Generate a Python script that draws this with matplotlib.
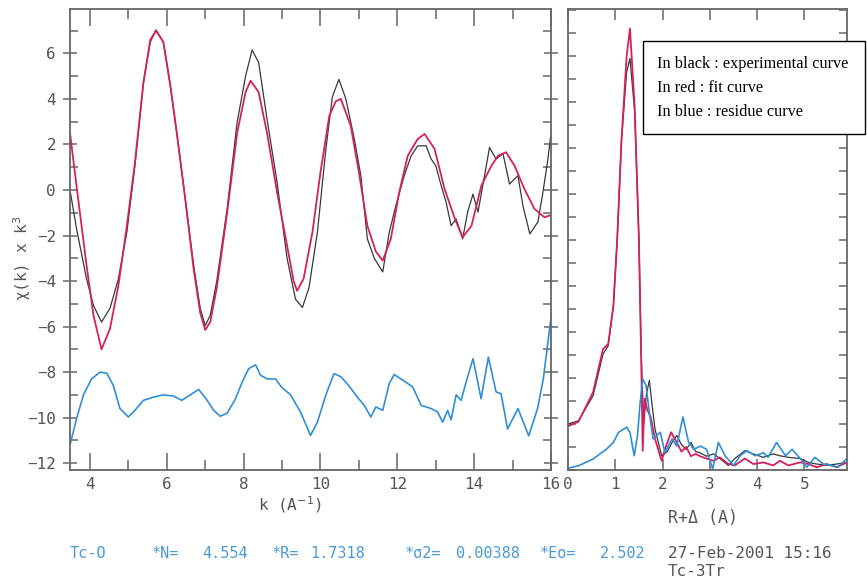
import numpy as np
import matplotlib
matplotlib.use("Agg")
import matplotlib.pyplot as plt
from matplotlib.patches import Rectangle
from matplotlib.ticker import MultipleLocator

# chi(k) * k^3 : experimental (black), fit (red), residue (blue, offset)
k_exp = [3.48, 3.65, 3.91, 4.09, 4.3, 4.52, 4.74, 4.96, 5.17, 5.39, 5.57, 5.72, 5.91, 6.09,
         6.26, 6.48, 6.7, 6.87, 7.0, 7.13, 7.3, 7.57, 7.83, 8.05, 8.22, 8.39, 8.61, 8.87,
         9.13, 9.35, 9.53, 9.7, 9.92, 10.14, 10.31, 10.48, 10.66, 10.88, 11.05, 11.22, 11.4,
         11.62, 11.79, 11.96, 12.18, 12.36, 12.53, 12.75, 12.88, 13.0, 13.14, 13.27, 13.4,
         13.53, 13.7, 13.83, 13.97, 14.1, 14.27, 14.4, 14.57, 14.75, 14.92, 15.14, 15.27,
         15.45, 15.66, 15.79, 15.92, 16.0]
chi_exp = [0.0, -1.7, -3.9, -5.07, -5.8, -5.2, -3.9, -1.85, 1.07, 4.7, 6.5, 7.03, 6.5, 4.6,
           2.5, -0.4, -3.33, -5.2, -5.96, -5.5, -4.0, -0.83, 2.97, 5.0, 6.15, 5.6, 3.1, 0.34,
           -3.0, -4.8, -5.16, -4.3, -1.86, 1.8, 4.1, 4.86, 4.0, 2.24, 0.63, -2.15, -3.0,
           -3.6, -1.86, -0.7, 0.63, 1.5, 1.94, 1.94, 1.36, 1.07, 0.2, -0.54, -1.57,
           -1.27, -2.15, -0.97, -0.18, -0.97, 0.63, 1.87, 1.36, 1.6, 0.26, 0.63, -0.7,
           -1.93, -1.4, -0.1, 1.36, 2.5]

k_fit = [3.48, 3.65, 3.91, 4.09, 4.3, 4.52, 4.74, 4.96, 5.17, 5.39, 5.57, 5.72, 5.91, 6.09,
         6.26, 6.48, 6.7, 6.87, 7.0, 7.13, 7.3, 7.57, 7.83, 8.05, 8.18, 8.39, 8.61, 8.87,
         9.13, 9.3, 9.39, 9.56, 9.79, 10.0, 10.23, 10.4, 10.53, 10.79, 11.0, 11.22, 11.44,
         11.62, 11.83, 12.05, 12.27, 12.53, 12.71, 12.97, 13.23, 13.5, 13.7, 13.93, 14.19,
         14.45, 14.62, 14.83, 15.05, 15.31, 15.57, 15.83, 16.0]
chi_fit = [2.5, 0.18, -3.3, -5.5, -7.0, -6.1, -4.2, -1.57, 1.2, 4.7, 6.6, 7.0, 6.5, 4.6,
           2.5, -0.4, -3.5, -5.4, -6.15, -5.8, -4.3, -1.0, 2.5, 4.3, 4.8, 4.3, 2.5, -0.1,
           -2.44, -4.0, -4.43, -3.9, -1.86, 0.78, 3.26, 3.9, 4.0, 2.8, 0.78, -1.57, -2.7,
           -3.1, -2.15, -0.1, 1.5, 2.24, 2.46, 1.8, 0.04, -1.27, -2.08, -1.57, 0.2,
           1.07, 1.5, 1.66, 1.07, 0.04, -0.83, -1.2, -1.1]

k_res = [3.48, 3.65, 3.83, 4.04, 4.26, 4.44, 4.61, 4.78, 5.0, 5.17, 5.39, 5.65, 5.91, 6.17,
         6.39, 6.61, 6.83, 7.05, 7.22, 7.39, 7.57, 7.78, 7.96, 8.13, 8.31, 8.44, 8.61, 8.83,
         8.98, 9.22, 9.48, 9.74, 9.92, 10.14, 10.35, 10.53, 10.74, 10.96, 11.14, 11.31,
         11.44, 11.62, 11.79, 11.92, 12.14, 12.4, 12.62, 12.88, 13.05, 13.18, 13.31, 13.4,
         13.53, 13.66, 13.79, 13.97, 14.18, 14.37, 14.57, 14.7, 14.87, 15.14, 15.42, 15.65,
         15.8, 16.0]
chi_res = [-11.2, -10.05, -9.0, -8.3, -8.0, -8.05, -8.6, -9.6, -9.97, -9.68, -9.24, -9.1,
           -9.0, -9.05, -9.24, -9.0, -8.76, -9.24, -9.68, -9.94, -9.8, -9.2, -8.44, -7.85,
           -7.68, -8.14, -8.3, -8.3, -8.65, -9.0, -9.75, -10.78, -10.2, -9.0, -8.07, -8.2,
           -8.6, -9.1, -9.46, -9.97, -9.53, -9.68, -8.5, -8.11, -8.35, -8.65, -9.46, -9.6,
           -9.75, -10.2, -9.68, -10.1, -9.0, -9.24, -8.44, -7.41, -9.17, -7.34, -8.87,
           -8.95, -10.5, -9.6, -10.8, -9.6, -8.3, -5.6]

# Fourier transform magnitude (arbitrary units)
r_exp = [0, 0.22, 0.53, 0.74, 0.85, 0.96, 1.04, 1.13, 1.24, 1.31, 1.41, 1.5, 1.55, 1.6,
         1.66, 1.72, 1.78, 1.84, 1.98, 2.1, 2.2, 2.3, 2.4, 2.5, 2.6, 2.7, 2.79, 2.93, 3.08,
         3.21, 3.39, 3.53, 3.74, 3.92, 4.13, 4.34, 4.48, 4.66, 4.91, 5.08, 5.26, 5.47,
         5.68, 5.9]
ft_exp = [2.0, 2.14, 3.23, 5.04, 5.4, 7.14, 10.0, 14.3, 17.3, 17.9, 15.6, 10.0, 5.0, 2.0,
          3.3, 3.9, 2.8, 1.78, 0.62, 0.8, 1.2, 1.5, 1.1, 0.9, 1.2, 0.8, 0.75, 0.6, 0.7,
          0.5, 0.2, 0.5, 0.84, 0.7, 0.55, 0.7, 0.62, 0.55, 0.5, 0.33, 0.26, 0.2, 0.26, 0.33]

r_fit = [0, 0.22, 0.53, 0.74, 0.85, 0.96, 1.04, 1.13, 1.24, 1.31, 1.41, 1.5, 1.55, 1.58,
         1.62, 1.68, 1.75, 1.84, 1.98, 2.05, 2.18, 2.3, 2.4, 2.5, 2.6, 2.7, 2.79, 2.93,
         3.08, 3.21, 3.39, 3.53, 3.74, 3.92, 4.13, 4.34, 4.48, 4.66, 4.91, 5.08, 5.26,
         5.47, 5.68, 5.9]
ft_fit = [1.9, 2.1, 3.38, 5.26, 5.48, 7.14, 10.0, 14.3, 18.0, 19.2, 15.8, 10.0, 4.5, 0.84,
          3.1, 2.6, 2.3, 1.35, 0.4, 0.9, 1.64, 1.2, 0.8, 1.0, 0.6, 0.7, 0.6, 0.5,
          0.4, 0.55, 0.26, 0.2, 0.5, 0.26, 0.33, 0.2, 0.4, 0.2, 0.33, 0.26, 0.12,
          0.26, 0.12, 0.33]

r_res = [0, 0.24, 0.53, 0.81, 0.96, 1.07, 1.24, 1.31, 1.4, 1.47, 1.52, 1.58, 1.65, 1.72,
         1.8, 1.95, 2.05, 2.2, 2.3, 2.43, 2.55, 2.66, 2.8, 2.93, 3.06, 3.18, 3.32, 3.5,
         3.64, 3.78, 3.96, 4.13, 4.23, 4.41, 4.6, 4.74, 4.91, 5.05, 5.22, 5.4, 5.57, 5.71,
         5.9]
ft_res = [0.07, 0.2, 0.48, 0.9, 1.2, 1.64, 1.86, 1.64, 0.62, 1.5, 2.8, 3.96, 3.67, 2.5,
          1.35, 1.64, 0.77, 1.35, 1.04, 2.3, 1.2, 0.9, 1.04, 0.9, 0.04, 1.2, 0.62, 0.2,
          0.62, 0.84, 0.62, 0.75, 0.55, 1.2, 0.62, 0.9, 0.5, 0.12, 0.55, 0.26, 0.2, 0.12,
          0.5]

fit_params = [("Tc-O", 70), ("*N=", 152), ("4.554", 202), ("*R=", 272), ("1.7318", 310),
              ("*\u03c32=", 405), ("0.00388", 456), ("*Eo=", 540), ("2.502", 600)]
legend_lines = ["In black : experimental curve", "In red : fit curve", "In blue : residue curve"]

c_black = "#383838"
c_red = "#d61f62"
c_blue = "#2f8fd6"
c_text = "#4a9ad8"
c_axis = "#666666"

plt.rcParams["font.family"] = ["DejaVu Sans Mono"]

W, H = 867, 580
fig = plt.figure(figsize=(W / 100, H / 100), dpi=100)


def fx(px):
    return px / W


def fy(py):
    return 1 - py / H


ax1 = fig.add_axes([fx(70), fy(470), fx(551) - fx(70), fy(9) - fy(470)])
ax2 = fig.add_axes([fx(568), fy(470), fx(847) - fx(568), fy(9) - fy(470)])

ax1.plot(k_exp, chi_exp, color=c_black, lw=0.9)
ax1.plot(k_fit, chi_fit, color=c_red, lw=1.3)
ax1.plot(k_res, chi_res, color=c_blue, lw=1.2)
ax1.set_xlim(3.48, 16.0)
ax1.set_ylim(-12.3, 7.95)
ax1.xaxis.set_major_locator(MultipleLocator(2))
ax1.xaxis.set_minor_locator(MultipleLocator(1))
ax1.yaxis.set_major_locator(MultipleLocator(2))
ax1.yaxis.set_minor_locator(MultipleLocator(1))
ax1.tick_params(axis="x", which="major", direction="in", length=12, top=True, width=1.1)
ax1.tick_params(axis="x", which="minor", direction="in", length=7, top=True, width=1.1)
ax1.tick_params(axis="y", which="major", direction="inout", length=10, right=True, width=1.1)
ax1.tick_params(axis="y", which="minor", direction="in", length=6, right=True, width=1.1)

ax2.plot(r_exp, ft_exp, color=c_black, lw=0.9)
ax2.plot(r_fit, ft_fit, color=c_red, lw=1.3)
ax2.plot(r_res, ft_res, color=c_blue, lw=1.2)
ax2.set_xlim(0, 5.9)
ax2.set_ylim(0, 20.05)
ax2.xaxis.set_major_locator(MultipleLocator(1))
ax2.yaxis.set_major_locator(MultipleLocator(1))
ax2.tick_params(axis="x", direction="in", length=8, top=True, width=1.1)
ax2.tick_params(axis="y", direction="in", length=6, right=True, width=1.1, labelleft=False)

for ax in (ax1, ax2):
    for s in ax.spines.values():
        s.set_color(c_axis)
        s.set_linewidth(1.3)
    ax.tick_params(which="both", colors=c_axis, labelcolor="#555555", labelsize=11.5, pad=5)

fig.text(fx(22), fy(258), "\u03c7(k) x k$^3$", rotation=90, ha="center", va="center",
         fontsize=11.5, color="#555555")
fig.text(fx(290), fy(505), "k (A$^{-1}$)", ha="center", va="center", fontsize=11.5,
         color="#555555")
fig.text(fx(668), fy(518), "R+\u0394 (A)", ha="left", va="center", fontsize=12,
         color="#555555")

for label, xpos in fit_params:
    fig.text(fx(xpos), fy(553), label, ha="left", va="center", fontsize=11, color=c_text)

fig.text(fx(668), fy(553), "27-Feb-2001 15:16", ha="left", va="center", fontsize=11.5,
         color="#555555")
fig.text(fx(668), fy(571), "Tc-3Tr", ha="left", va="center", fontsize=11.5, color="#555555")

fig.patches.append(Rectangle((fx(643), fy(134)), fx(865) - fx(643), fy(41) - fy(134),
                             transform=fig.transFigure, facecolor="white",
                             edgecolor="black", lw=1.0, zorder=5))
for i, line in enumerate(legend_lines):
    fig.text(fx(657), fy(64 + 24 * i), line, ha="left", va="center", fontsize=11.7,
             family="Liberation Serif", color="black", zorder=6)

fig.savefig("out.png", dpi=100, facecolor="white")
